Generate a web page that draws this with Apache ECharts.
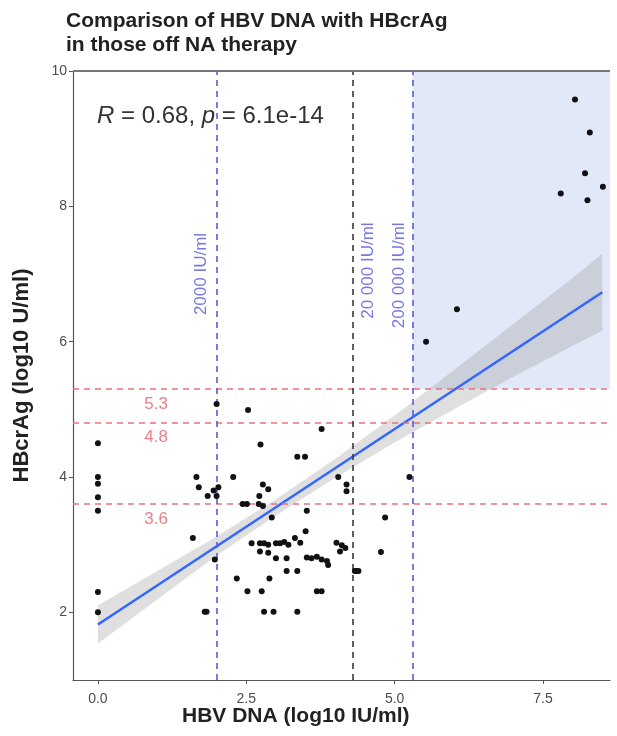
<!DOCTYPE html>
<html>
<head>
<meta charset="utf-8">
<script src="https://cdn.jsdelivr.net/npm/echarts@6/dist/echarts.min.js"></script>
<style>
html,body{margin:0;padding:0;background:#fff;}
#chart{width:617px;height:736px;}
</style>
</head>
<body>
<div id="chart"></div>
<script>
const titleLines = ['Comparison of HBV DNA with HBcrAg', 'in those off NA therapy'];
const xTitle = 'HBV DNA (log10 IU/ml)';
const yTitle = 'HBcrAg (log10 U/ml)';
const xTicks = [0, 2.5, 5, 7.5];
const yTicks = [2, 4, 6, 8, 10];

const hbvDna = [0, 0, 0, 0, 0, 0, 0,
  2.0, 2.53, 2.74, 3.77, 3.36, 3.49, 1.66, 2.28, 2.78, 2.87, 2.72, 1.70, 1.85, 1.95, 2.03, 2.0,
  2.44, 2.51, 2.71, 2.78, 3.52, 2.93, 1.60, 3.50,
  2.59, 2.73, 2.80, 2.87, 3.0, 3.07, 3.14, 3.21, 3.32, 3.41,
  2.73, 2.87, 3.0, 3.18, 3.52, 3.60, 3.69, 3.77, 3.86, 3.88,
  4.02, 4.11, 4.08, 4.35, 3.18, 3.36, 2.34, 2.89, 2.52, 2.76, 3.69, 3.77, 1.80, 1.83, 2.80, 2.96, 3.36, 1.97,
  4.19, 4.19, 4.05, 5.25, 4.84, 4.77, 4.33, 4.39, 4.17,
  8.04, 8.29, 8.21, 8.51, 7.80, 8.25, 6.05, 5.53];
const hbcrag = [4.5, 4.0, 3.9, 3.7, 3.5, 2.3, 2.0,
  5.08, 4.99, 4.48, 4.71, 4.30, 4.30, 4.0, 4.0, 3.89, 3.82, 3.72, 3.85, 3.72, 3.80, 3.85, 3.72,
  3.6, 3.6, 3.6, 3.57, 3.5, 3.4, 3.1, 3.2,
  3.02, 3.02, 3.02, 3.0, 3.02, 3.02, 3.04, 3.0, 3.1, 3.03,
  2.90, 2.88, 2.80, 2.80, 2.81, 2.80, 2.82, 2.78, 2.76, 2.70,
  3.03, 2.99, 2.90, 2.61, 2.61, 2.61, 2.5, 2.5, 2.31, 2.31, 2.31, 2.31, 2.01, 2.01, 2.01, 2.01, 2.01, 2.78,
  3.89, 3.79, 4.0, 4.0, 3.40, 2.89, 2.61, 2.61, 2.95,
  9.58, 9.09, 8.49, 8.29, 8.19, 8.09, 6.48, 6.0];

const fitX = [0, 8.5];
const fitY = [1.82, 6.73];
const bandX = [0, 1, 2, 3, 4, 5, 6, 7, 8, 8.5];
const bandLower = [1.54, 2.19, 2.84, 3.43, 3.99, 4.51, 5.00, 5.48, 5.94, 6.16];
const bandUpper = [2.10, 2.61, 3.12, 3.67, 4.27, 4.91, 5.58, 6.26, 6.94, 7.30];

const cutoffY = [5.3, 4.8, 3.6];
const cutoffYLabels = ['5.3', '4.8', '3.6'];
const cutoffX = [2, 4.3, 5.3];
const cutoffXLabels = ['2000 IU/ml', '20 000 IU/ml', '200 000 IU/ml'];
const statText = ['R', ' = 0.68, ', 'p', ' = 6.1e-14'];

const chart = echarts.init(document.getElementById('chart'), null, {renderer: 'canvas'});

const XMIN = -0.42, XMAX = 8.63, YMIN = 1, YMAX = 10;
const points = hbvDna.map((x, i) => [x, hbcrag[i]]);
const vColors = ['#5a5ae0', '#3a3a3a', '#5a5ae0'];
const FONT = 'Liberation Sans, Arial';

const option = {
  animation: false,
  backgroundColor: '#fff',
  title: {
    text: titleLines.join('\n'),
    left: 61, top: 4,
    textStyle: {fontFamily: FONT, fontWeight: 'bold', fontSize: 21, color: '#222', lineHeight: 24}
  },
  grid: {left: 73, top: 71, right: 7, bottom: 56, containLabel: false},
  xAxis: {
    type: 'value', min: XMIN, max: XMAX,
    splitLine: {show: false},
    axisLine: {show: true, onZero: false, lineStyle: {color: '#555', width: 1.2}},
    axisTick: {show: true, length: 4, lineStyle: {color: '#555'}, customValues: xTicks},
    axisLabel: {customValues: xTicks, formatter: v => v.toFixed(1), color: '#4d4d4d', fontSize: 14, fontFamily: FONT, margin: 12}
  },
  yAxis: {
    type: 'value', min: YMIN, max: YMAX,
    name: yTitle, nameLocation: 'middle', nameGap: 40,
    nameTextStyle: {fontFamily: FONT, fontWeight: 'bold', fontSize: 22, color: '#222'},
    splitLine: {show: false},
    axisLine: {show: true, onZero: false, lineStyle: {color: '#555', width: 1.2}},
    axisTick: {show: true, length: 4, lineStyle: {color: '#555'}, customValues: yTicks},
    axisLabel: {customValues: yTicks, color: '#4d4d4d', fontSize: 14, fontFamily: FONT, margin: 6}
  },
  graphic: [
    {type: 'text', left: 182, top: 706, style: {text: xTitle, fontFamily: FONT, fontWeight: 'bold', fontSize: 21, fill: '#222'}},
    {type: 'text', left: 97, top: 104, style: {
      rich: {
        i: {fontStyle: 'italic', fontSize: 24, fontFamily: FONT, fill: '#333'},
        n: {fontSize: 24, fontFamily: FONT, fill: '#333'}
      },
      text: '{i|' + statText[0] + '}{n|' + statText[1] + '}{i|' + statText[2] + '}{n|' + statText[3] + '}'
    }}
  ],
  series: [
    {
      type: 'line', data: [], silent: true,
      markArea: {
        silent: true,
        itemStyle: {color: 'rgba(170,190,232,0.35)'},
        data: [[{coord: [cutoffX[2], cutoffY[0]]}, {coord: [XMAX, YMAX]}]]
      },
      markLine: {
        silent: true, symbol: 'none', animation: false,
        label: {show: false},
        data: [
          ...cutoffY.map(v => ({yAxis: v, lineStyle: {color: '#e8737d', type: [6, 5], width: 1.6}})),
          ...cutoffX.map((v, i) => ({xAxis: v, lineStyle: {color: vColors[i], type: [6, 5], width: 1.6}})),
          {yAxis: YMAX, lineStyle: {color: '#777', type: 'solid', width: 2}}
        ]
      }
    },
    {
      type: 'custom', silent: true, z: 3,
      data: [[0]],
      renderItem: (params, api) => {
        const pts = [];
        bandX.forEach((x, i) => pts.push(api.coord([x, bandUpper[i]])));
        for (let i = bandX.length - 1; i >= 0; i--) pts.push(api.coord([bandX[i], bandLower[i]]));
        return {type: 'polygon', shape: {points: pts}, style: {fill: 'rgba(150,150,150,0.3)'}};
      }
    },
    {
      type: 'line', z: 4, silent: true,
      data: fitX.map((x, i) => [x, fitY[i]]),
      symbol: 'none', lineStyle: {color: '#3366ff', width: 2.5}
    },
    {
      type: 'scatter', z: 5, data: points,
      symbolSize: 6, itemStyle: {color: '#111', opacity: 1}
    },
    {
      type: 'scatter', z: 6, silent: true, symbolSize: 0,
      data: [
        {value: [cutoffX[0] - 0.25, 7.0], label: {formatter: cutoffXLabels[0]}},
        {value: [cutoffX[1] + 0.25, 7.05], label: {formatter: cutoffXLabels[1]}},
        {value: [cutoffX[2] - 0.22, 6.98], label: {formatter: cutoffXLabels[2]}},
        {value: [0.98, cutoffY[0] - 0.22], label: {formatter: cutoffYLabels[0], rotate: 0, color: '#e2606c', fontSize: 17}},
        {value: [0.98, cutoffY[1] - 0.22], label: {formatter: cutoffYLabels[1], rotate: 0, color: '#e2606c', fontSize: 17}},
        {value: [0.98, cutoffY[2] - 0.22], label: {formatter: cutoffYLabels[2], rotate: 0, color: '#e2606c', fontSize: 17}}
      ],
      label: {show: true, position: 'inside', rotate: 90, color: '#5555dd', fontSize: 17, fontFamily: FONT}
    }
  ]
};
chart.setOption(option);
</script>
</body>
</html>
